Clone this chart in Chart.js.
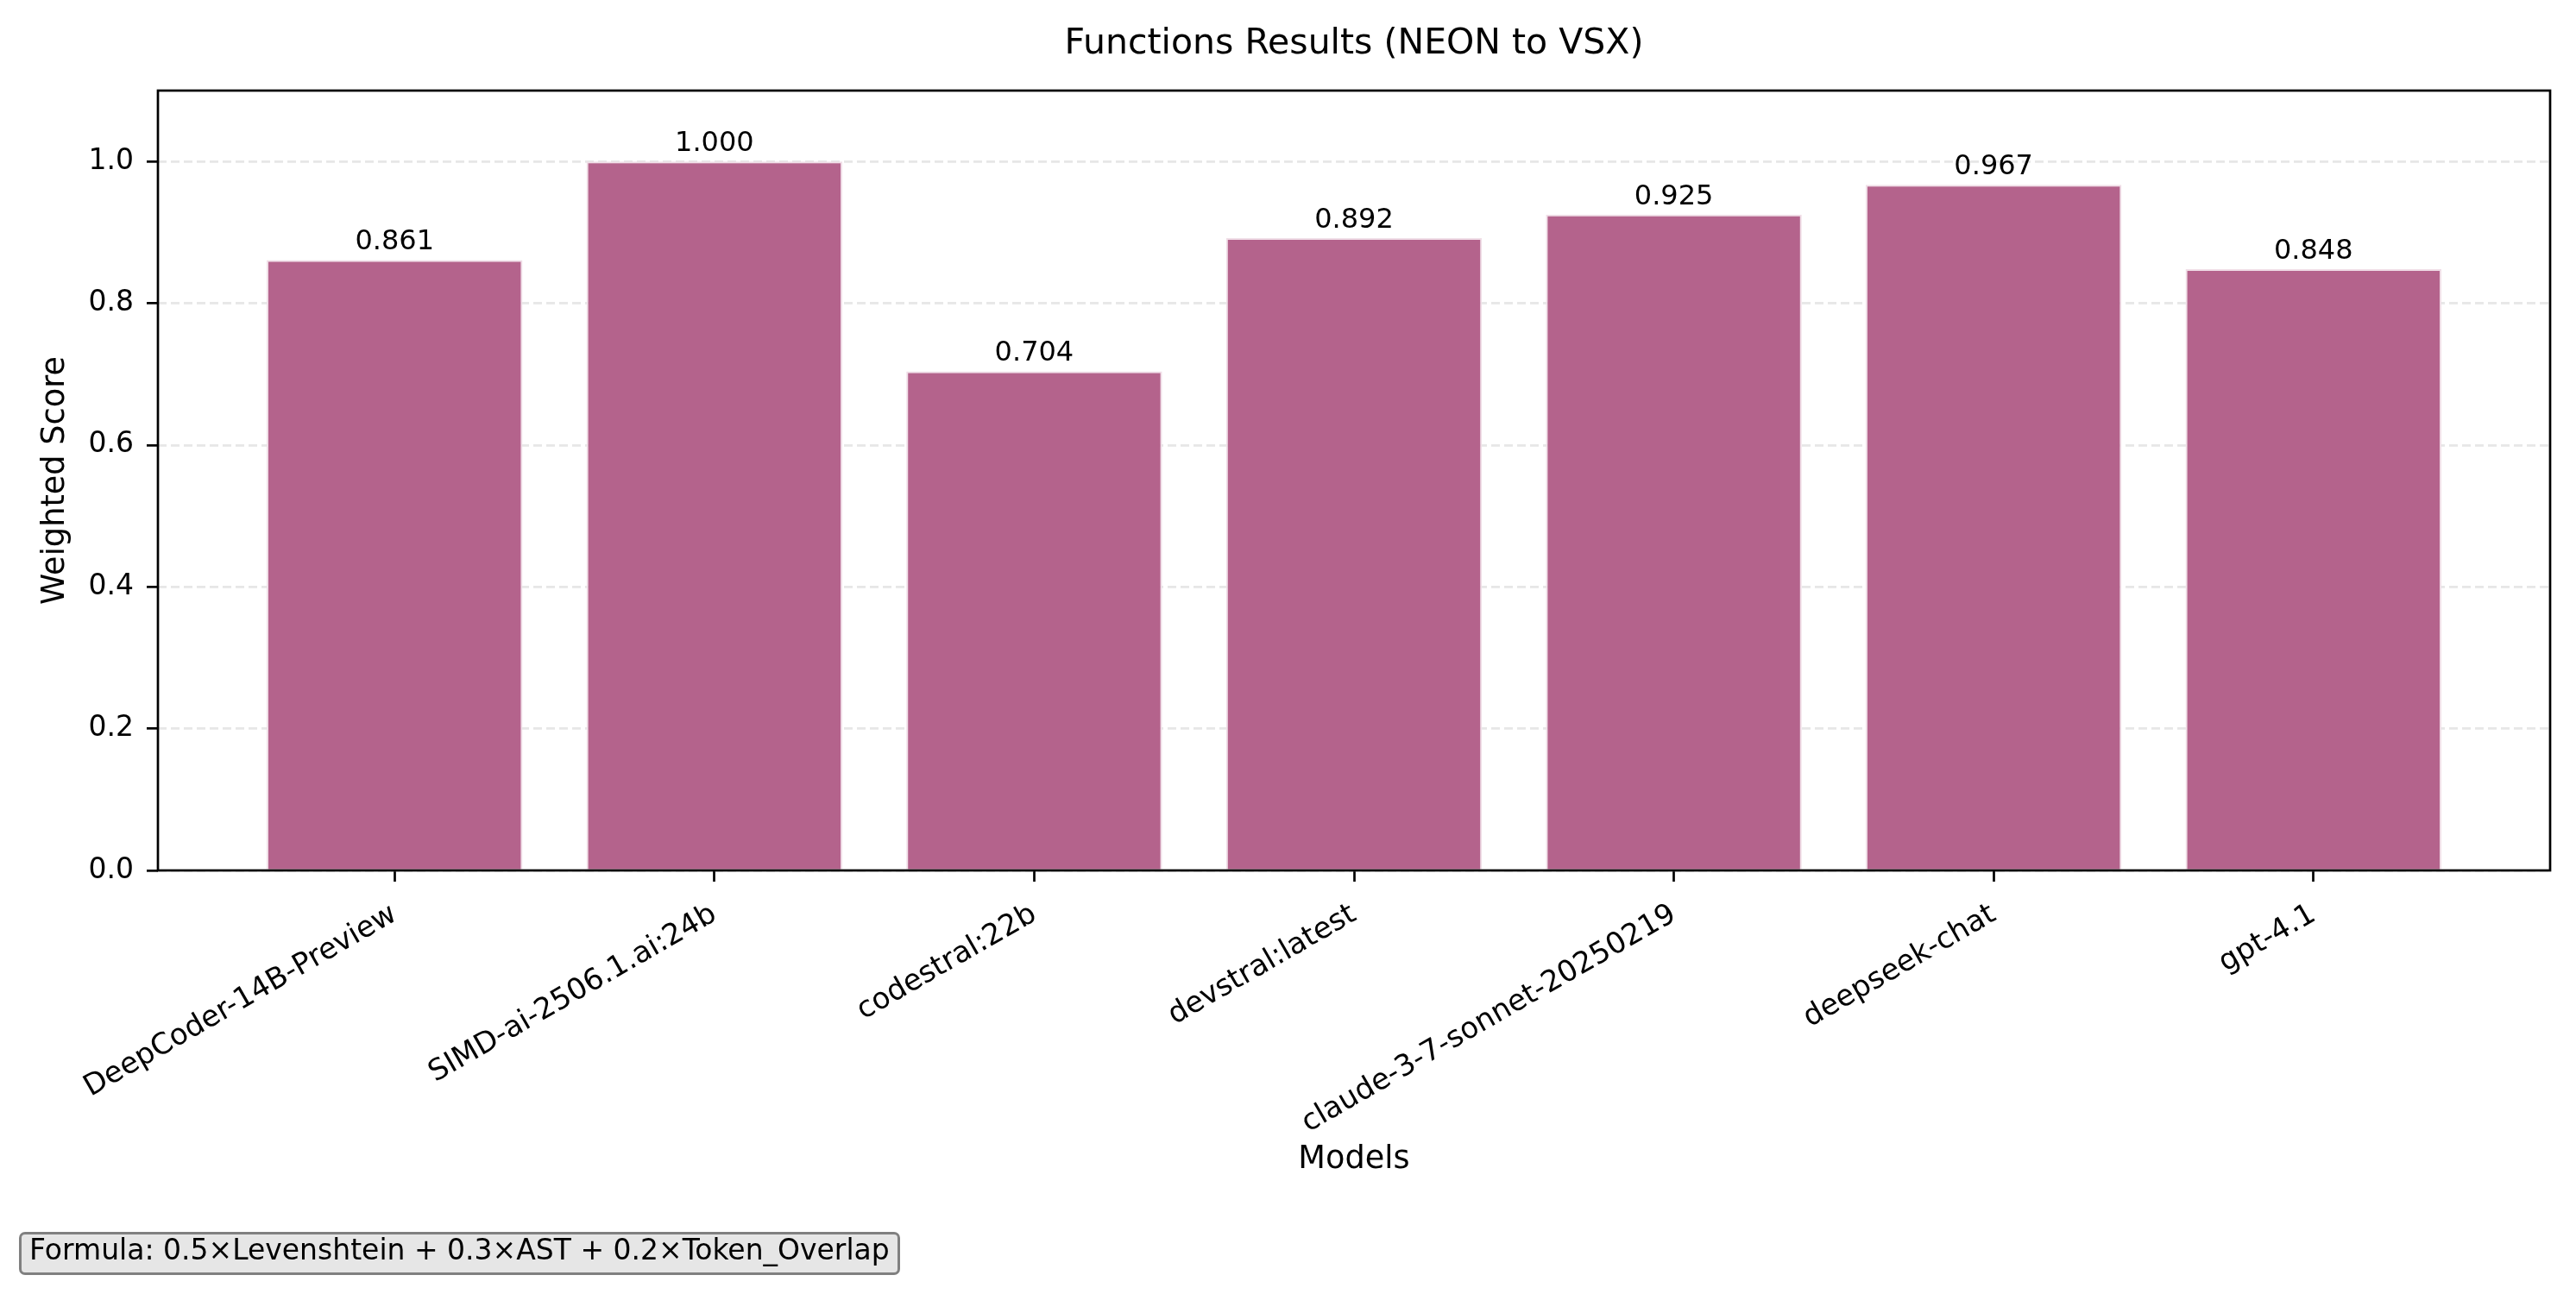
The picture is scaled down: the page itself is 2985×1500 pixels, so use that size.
<!DOCTYPE html>
<html>
<head>
<meta charset="utf-8">
<script src="https://cdn.jsdelivr.net/npm/chart.js@4.4.1/dist/chart.umd.min.js"></script>
<style>
  body { margin: 0; background: #fff; }
  #wrap { position: relative; width: 2985px; height: 1500px; }
  #formula {
    position: absolute; left: 22px; top: 1428px;
    box-sizing: border-box; height: 50px;
    padding: 0 9px 8px 9px;
    border: 3px solid #808080; border-radius: 7px;
    background: #e6e6e6;
    font-family: "DejaVu Sans"; font-size: 33px; line-height: 36px;
    white-space: nowrap; color: #000;
  }
</style>
</head>
<body>
<div id="wrap">
  <canvas id="myChart"></canvas>
  <div id="formula">Formula: 0.5×Levenshtein + 0.3×AST + 0.2×Token_Overlap</div>
</div>
<script>
var title = 'Functions Results (NEON to VSX)';
var models = ['DeepCoder-14B-Preview', 'SIMD-ai-2506.1.ai:24b', 'codestral:22b', 'devstral:latest',
    'claude-3-7-sonnet-20250219', 'deepseek-chat', 'gpt-4.1'];
var scores = [0.861, 1.000, 0.704, 0.892, 0.925, 0.967, 0.848];
var yTicks = [0.0, 0.2, 0.4, 0.6, 0.8, 1.0];

Chart.defaults.font.family = 'DejaVu Sans';
Chart.defaults.color = '#000';

// frame round the plot, title over the plot area and the numbers over the bars
var extras = {
    id: 'extras',
    afterDraw: function(chart) {
        var ctx = chart.ctx;
        var a = chart.chartArea;
        ctx.save();
        ctx.strokeStyle = '#000';
        ctx.lineWidth = 2.7;
        ctx.strokeRect(a.left, a.top, a.right - a.left, a.bottom - a.top);

        ctx.fillStyle = '#000';
        ctx.textAlign = 'center';
        ctx.textBaseline = 'alphabetic';
        ctx.font = '41px "DejaVu Sans"';
        ctx.fillText(title, (a.left + a.right) / 2, 62);

        ctx.font = '32px "DejaVu Sans"';
        var meta = chart.getDatasetMeta(0);
        meta.data.forEach(function(bar, i) {
            ctx.fillText(scores[i].toFixed(3), bar.x, bar.y - 12);
        });
        ctx.restore();
    }
};

new Chart('myChart', {
    type: 'bar',
    data: {
        datasets: [{
            data: scores.map(function(v, i) { return {x: i, y: v}; }),
            backgroundColor: 'rgb(180,99,140)',
            borderColor: 'rgb(240,222,231)',
            borderWidth: 2,
            barPercentage: 0.8,
            categoryPercentage: 1.0
        }]
    },
    options: {
        responsive: true,
        maintainAspectRatio: false,
        devicePixelRatio: 1,
        animation: false,
        layout: { padding: { left: 42, right: 30, top: 105, bottom: 134 } },
        plugins: {
            legend: { display: false },
            tooltip: { enabled: false },
            title: { display: false }
        },
        scales: {
            x: {
                type: 'linear',
                min: -0.74,
                max: 6.74,
                offset: false,
                z: 1,
                afterBuildTicks: function(scale) {
                    scale.ticks = models.map(function(m, i) { return {value: i}; });
                },
                afterFit: function(scale) { scale.height = 357; },
                ticks: {
                    autoSkip: false,
                    maxRotation: 30,
                    minRotation: 30,
                    padding: 18,
                    font: { size: 34 },
                    callback: function(v) { return models[v]; }
                },
                grid: {
                    offset: false,
                    drawOnChartArea: false,
                    drawTicks: true,
                    tickLength: 13,
                    tickWidth: 2.7,
                    tickColor: '#000'
                },
                border: { display: false },
                title: {
                    display: true,
                    text: 'Models',
                    font: { size: 36.7 },
                    padding: 0
                }
            },
            y: {
                min: 0,
                max: 1.1,
                z: 1,
                afterBuildTicks: function(scale) {
                    scale.ticks = yTicks.map(function(v) { return {value: v}; });
                },
                afterFit: function(scale) { scale.width = 141; },
                ticks: {
                    padding: 15,
                    font: { size: 33 },
                    callback: function(v) { return v.toFixed(1); }
                },
                grid: {
                    color: 'rgba(176,176,176,0.3)',
                    lineWidth: 2.7,
                    tickLength: 13,
                    tickWidth: 2.7,
                    tickColor: '#000',
                    tickBorderDash: []
                },
                border: { display: false, dash: [10, 5] },
                title: {
                    display: true,
                    text: 'Weighted Score',
                    font: { size: 36.7 },
                    padding: 0
                }
            }
        }
    },
    plugins: [extras]
});
</script>
</body>
</html>
